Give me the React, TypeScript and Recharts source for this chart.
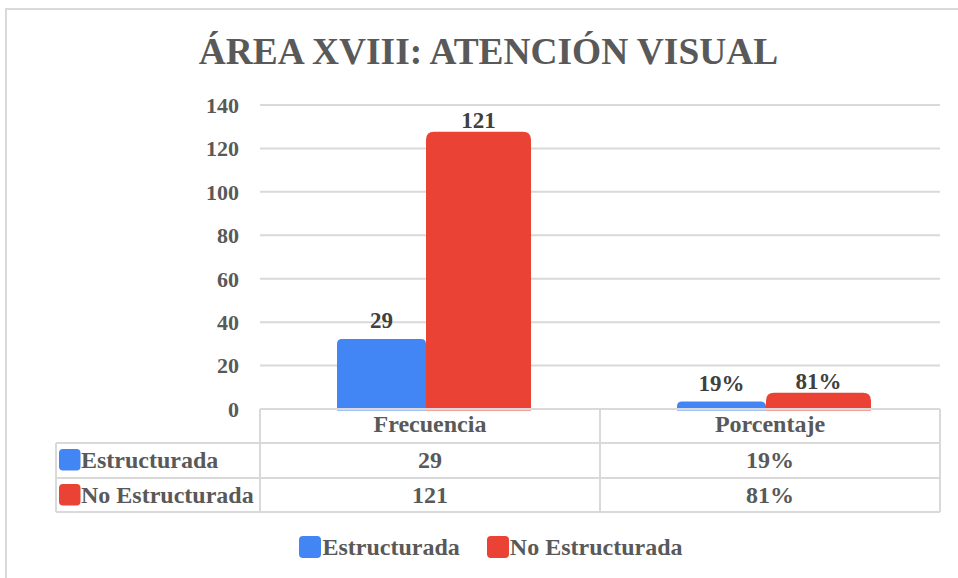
import { Bar, BarChart, CartesianGrid, LabelList, Legend, XAxis, YAxis } from "recharts";

const CATEGORIES = ["Frecuencia", "Porcentaje"];
const ESTRUCTURADA = [29, 0.19];
const NO_ESTRUCTURADA = [121, 0.81];
const ESTRUCTURADA_LABELS = ["29", "19%"];
const NO_ESTRUCTURADA_LABELS = ["121", "81%"];
const Y_TICKS = [0, 20, 40, 60, 80, 100, 120, 140];

const SERIES = [
  { key: "est", name: "Estructurada", color: "#4285F4", labels: ESTRUCTURADA_LABELS },
  { key: "noEst", name: "No Estructurada", color: "#EA4335", labels: NO_ESTRUCTURADA_LABELS },
];

const data = CATEGORIES.map((cat, i) => ({
  cat,
  est: ESTRUCTURADA[i],
  noEst: NO_ESTRUCTURADA[i],
  estLabel: ESTRUCTURADA_LABELS[i],
  noEstLabel: NO_ESTRUCTURADA_LABELS[i],
}));

const FONT = "'Liberation Serif', 'Times New Roman', serif";
const GRID = "#d9d9d9";
const TEXT = "#595959";

// rounded-top bar, drawn a little taller than its value like the original
function RoundedTop(p: any) {
  const { x, y, width, height, fill, ext, r, dx, dw } = p;
  const left = x + dx;
  const w = width + dw;
  const top = y - ext;
  const bottom = y + height + 1.5;
  const d = `M${left},${bottom} L${left},${top + r} Q${left},${top} ${left + r},${top} L${left + w - r},${top} Q${left + w},${top} ${left + w},${top + r} L${left + w},${bottom} Z`;
  return <path d={d} fill={fill} />;
}

// x-axis tick that draws the data table column under each category
function TableTick(p: any) {
  const { x, y, payload } = p;
  const i = payload.index;
  const half = 170;
  const L = x - half;
  const R = x + half;
  const rows = [0, 34, 69, 103];
  const txt = { fontFamily: FONT, fontSize: 24, fontWeight: "bold", fill: TEXT } as const;
  const line = { stroke: GRID, strokeWidth: 2 };
  return (
    <g>
      <line x1={L} x2={L} y1={y} y2={y + rows[3]} {...line} />
      <line x1={R} x2={R} y1={y} y2={y + rows[3]} {...line} />
      <line x1={L} x2={R} y1={y + rows[1]} y2={y + rows[1]} {...line} />
      <line x1={L} x2={R} y1={y + rows[2]} y2={y + rows[2]} {...line} />
      <line x1={L} x2={R} y1={y + rows[3]} y2={y + rows[3]} {...line} />
      <text x={x} y={y + 23} textAnchor="middle" {...txt}>{payload.value}</text>
      {SERIES.map((s, k) => (
        <text key={s.key} x={x} y={y + rows[k + 1] + 25} textAnchor="middle" {...txt}>{s.labels[i]}</text>
      ))}
      {i === 0 && (
        <g>
          <line x1={L - 204} x2={L} y1={y + rows[1]} y2={y + rows[1]} {...line} />
          <line x1={L - 204} x2={L} y1={y + rows[2]} y2={y + rows[2]} {...line} />
          <line x1={L - 204} x2={L} y1={y + rows[3]} y2={y + rows[3]} {...line} />
          <line x1={L - 204} x2={L - 204} y1={y + rows[1]} y2={y + rows[3]} {...line} />
          {SERIES.map((s, k) => (
            <g key={s.key}>
              <rect x={L - 201} y={y + rows[k + 1] + 6} width={21.5} height={21.5} rx={4} fill={s.color} />
              <text x={L - 179} y={y + rows[k + 1] + 25} textAnchor="start" {...txt}>{s.name}</text>
            </g>
          ))}
        </g>
      )}
    </g>
  );
}

function LegendContent() {
  return (
    <div style={{ display: "flex", justifyContent: "center", alignItems: "center", gap: 27, fontFamily: FONT, fontSize: 24, fontWeight: "bold", color: TEXT }}>
      {SERIES.map((s) => (
        <div key={s.key} style={{ display: "flex", alignItems: "center" }}>
          <span style={{ display: "inline-block", width: 22, height: 22, borderRadius: 4, background: s.color, marginRight: 1 }} />
          <span style={{ lineHeight: "24px" }}>{s.name}</span>
        </div>
      ))}
    </div>
  );
}

export default function App() {
  return (
    <div style={{ position: "absolute", left: 0, top: 0, width: 958, height: 578, background: "#fff", overflow: "hidden" }}>
      <div style={{ position: "absolute", left: 5, top: 8, width: 980, height: 600, border: `2px solid ${GRID}`, boxSizing: "border-box" }} />
      <div style={{ position: "absolute", left: 0, top: 33, width: 977, textAlign: "center", fontFamily: FONT, fontSize: 37.4, lineHeight: "37px", fontWeight: "bold", color: TEXT }}>
        ÁREA XVIII: ATENCIÓN VISUAL
      </div>
      <div style={{ position: "absolute", left: 0, top: 0 }}>
        <BarChart width={958} height={578} data={data} margin={{ top: 105, right: 18, left: 200, bottom: 59 }} barGap={0} barSize={97}>
          <CartesianGrid vertical={false} stroke={GRID} strokeWidth={2} />
          <YAxis
            domain={[0, 140]}
            ticks={Y_TICKS}
            width={60}
            axisLine={false}
            tickLine={false}
            tickSize={6}
            tickMargin={15}
            tick={{ fill: TEXT, fontSize: 22, fontWeight: "bold", fontFamily: FONT }}
          />
          <XAxis
            dataKey="cat"
            height={110}
            interval={0}
            tickLine={false}
            tickSize={0}
            tickMargin={0}
            axisLine={{ stroke: GRID, strokeWidth: 2 }}
            tick={(p: any) => <TableTick {...p} />}
          />
          <Legend
            layout="horizontal"
            verticalAlign="middle"
            align="center"
            wrapperStyle={{ top: 535, left: 12, width: 958 }}
            content={() => <LegendContent />}
          />
          <Bar dataKey="est" name="Estructurada" fill={SERIES[0].color} isAnimationActive={false}
            shape={(p: any) => <RoundedTop {...p} ext={7} r={5} dx={4} dw={-8} />}>
            <LabelList dataKey="estLabel" position="top" offset={18} fill="#404040" fontSize={23} fontWeight="bold" fontFamily={FONT} />
          </Bar>
          <Bar dataKey="noEst" name="No Estructurada" fill={SERIES[1].color} isAnimationActive={false}
            shape={(p: any) => <RoundedTop {...p} ext={14.5} r={8} dx={-4} dw={8} />}>
            <LabelList dataKey="noEstLabel" position="top" offset={18} fill="#404040" fontSize={23} fontWeight="bold" fontFamily={FONT} />
          </Bar>
        </BarChart>
      </div>
    </div>
  );
}
